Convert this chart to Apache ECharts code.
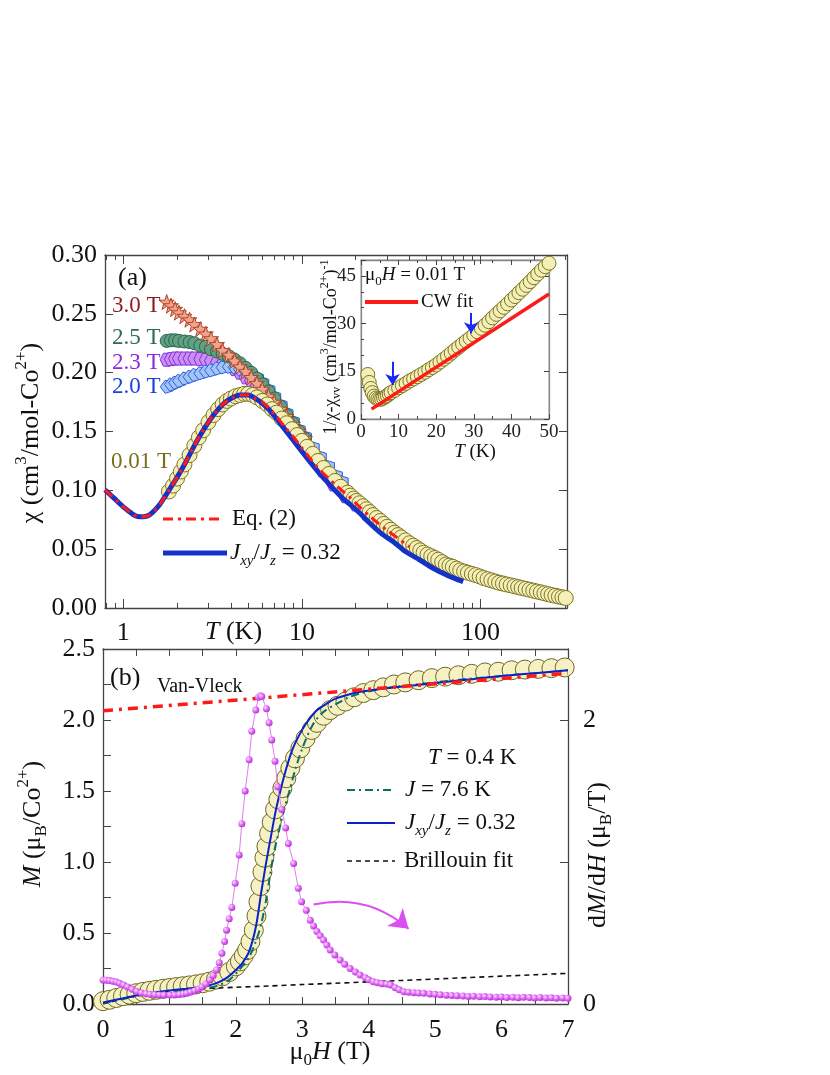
<!DOCTYPE html>
<html>
<head>
<meta charset="utf-8">
<script src="https://cdn.jsdelivr.net/npm/echarts@6/dist/echarts.min.js"></script>
<style>
html, body { margin: 0; padding: 0; background: #fff; }
#chart { width: 830px; height: 1075px; }
</style>
</head>
<body>
<div id="chart"></div>
<script>
// ---- panel (a): chi(T), log T axis ----
var tLow = [1.8,1.9,2.0,2.1,2.2,2.35,2.5,2.65,2.8,3.0,3.2,3.4,3.6,3.8,4.0,4.25,4.5,4.75,5.0,5.3,5.6,6.0,6.4,6.8,7.2,7.7,8.2,8.8,9.4,10,10.7,11.5,12.3,13.2,14.2,15.3,16.5,
    18,18.7,19.5,20.2,21,22,23,24,25,26.2,27.5,28.7,30,31.5,33,34.5,36,38,40,42,44,46,48,50.5,53,55.5,58,61,64,67,70,73.5,77,81,85,89.5,94,99,104,109.5,115,121,127,133.5,140,147.5,155,162.5,170,179,188,197.5,207,217.5,228,239,250,262.5,275,287.5,300];
var chiLow = [0.099,0.104,0.110,0.116,0.122,0.130,0.138,0.145,0.151,0.158,0.164,0.169,0.173,0.176,0.178,0.180,0.181,0.182,0.182,0.181,0.179,0.176,0.173,0.169,0.166,0.161,0.157,0.152,0.147,0.142,0.137,0.131,0.125,0.119,0.114,0.108,0.103,
    0.098,0.0955,0.093,0.091,0.089,0.0865,0.084,0.0815,0.079,0.0765,0.074,0.0715,0.069,0.0665,0.064,0.062,0.060,0.0575,0.055,0.053,0.051,0.049,0.047,0.0455,0.044,0.0425,0.041,0.039,0.037,0.036,0.035,0.0335,0.032,0.031,0.030,0.029,0.028,0.0268,0.0255,0.0245,0.0235,0.0225,0.0215,0.0208,0.020,0.0193,0.0185,0.0178,0.017,0.0163,0.0155,0.0148,0.014,0.0133,0.0125,0.0118,0.011,0.0104,0.0097,0.0091,0.0085];

var tField = [1.75,1.85,1.95,2.05,2.2,2.35,2.5,2.7,2.9,3.1,3.35,3.6,3.9,4.2,4.5,4.85,5.2,5.6,6.0,6.5,7.0,7.6,8.2,8.9,9.6,10.4];
var chi30 = [0.260,0.257,0.254,0.251,0.248,0.245,0.241,0.237,0.233,0.229,0.224,0.219,0.215,0.210,0.205,0.201,0.196,0.191,0.186,0.180,0.175,0.169,0.163,0.156,0.150,0.144];
var chi25 = [0.227,0.2275,0.2275,0.227,0.2265,0.226,0.225,0.223,0.222,0.220,0.218,0.216,0.214,0.211,0.208,0.204,0.200,0.195,0.190,0.184,0.178,0.171,0.164,0.157,0.150,0.144];
var t23 = [1.75,1.85,1.95,2.05,2.2,2.35,2.5,2.7,2.9,3.1,3.35,3.6,3.9,4.2,4.5,4.85,5.2,5.6,6.0,6.5,7.0,7.6,8.2,8.9,9.6,10.4,11.5,13,15,17.5,20,23,27,32,38,45];
var chi23 = [0.211,0.2115,0.212,0.212,0.212,0.212,0.212,0.2115,0.211,0.210,0.209,0.208,0.206,0.203,0.200,0.196,0.193,0.189,0.185,0.179,0.173,0.166,0.159,0.151,0.144,0.137,0.128,0.117,0.105,0.095,0.088,0.080,0.072,0.063,0.055,0.048];
var t20 = [1.75,1.85,1.95,2.05,2.2,2.35,2.5,2.7,2.9,3.1,3.35,3.6,3.9,4.2,4.5,4.85,5.2,5.6,6.0,6.5,7.0,7.6,8.2,8.9,9.6,10.4,11.5,12.6,14,15.5,16.7];
var chi20 = [0.188,0.190,0.1915,0.193,0.195,0.1965,0.198,0.1995,0.201,0.202,0.2035,0.2045,0.205,0.2045,0.203,0.201,0.198,0.195,0.191,0.185,0.179,0.172,0.165,0.158,0.151,0.145,0.136,0.128,0.120,0.112,0.107];

var tEq = [0.79,0.85,0.9,0.95,1.0,1.1,1.2,1.3,1.4,1.5,1.6,1.7,1.8,2.0,2.2,2.5,2.8,3.2,3.6,4.0,4.5,5.0,5.5,6.0,6.6,7.2,8.0,8.9,10,11,12.3,13.7,15.3,17,18.6,21,24,27,30,34,40];
var chiEq = [0.1003,0.096,0.0925,0.089,0.086,0.081,0.0778,0.0776,0.079,0.083,0.088,0.094,0.100,0.111,0.122,0.138,0.151,0.164,0.173,0.178,0.181,0.181,0.178,0.175,0.169,0.163,0.154,0.146,0.136,0.128,0.119,0.112,0.105,0.099,0.094,0.086,0.078,0.0715,0.066,0.060,0.052];
var tJ = [0.79,0.85,0.9,0.95,1.0,1.1,1.2,1.3,1.4,1.5,1.6,1.7,1.8,2.0,2.2,2.5,2.8,3.2,3.6,4.0,4.5,5.0,5.5,6.0,6.6,7.2,8.0,8.9,10,11,12.3,13.7,15.3,17,18.6,21,24,28,32.5,38,45.8,54,64.6,72,80];
var chiJ = [0.1003,0.096,0.0925,0.089,0.086,0.081,0.0778,0.0776,0.079,0.083,0.088,0.094,0.100,0.111,0.122,0.138,0.151,0.164,0.173,0.178,0.181,0.181,0.178,0.174,0.168,0.161,0.152,0.143,0.133,0.125,0.116,0.108,0.100,0.093,0.088,0.081,0.072,0.063,0.0564,0.048,0.0408,0.034,0.028,0.025,0.0224];

var logMajorT = [1, 10, 100];
var logMinorT = [0.8,0.9,2,3,4,5,6,7,8,9,20,30,40,50,60,70,80,90,200,300];

// ---- inset: 1/(chi-chi_vv) vs T ----
var tIn = [1.8,2.2,2.6,3.0,3.5,4.0,4.5,5.0,5.5,6.0,6.5,7.0,7.5,8,9,10,11,12,13,14,15,16,17,18,19,20,21,22,23,24,25,26,27,28,29,30,31,32,33,34,35,36,37,38,39,40,41,42,43,44,45,46,47,48,49,50];
var invChi = [14.0,11.5,9.6,8.3,7.2,6.6,6.3,6.2,6.3,6.6,7.0,7.4,7.9,8.3,9.0,9.8,10.5,11.2,12.0,12.6,13.3,14.0,14.7,15.5,16.2,17.0,17.9,18.8,19.7,20.7,21.7,22.6,23.6,24.5,25.4,26.4,27.4,28.5,29.5,30.6,31.8,32.9,34.0,35.1,36.2,37.4,38.5,39.7,40.8,42.0,43.2,44.4,45.6,46.8,47.9,49.0];
var tCW = [2.8, 50];
var cwVal = [3.1, 39.3];
var arrowT = [8.4, 29.3];
var arrowFrom = [18.0, 33.3];
var arrowTo = [10.7, 27.0];

// ---- panel (b): M(H) at 0.4 K ----
var hM = [0,0.1,0.2,0.3,0.4,0.5,0.6,0.7,0.8,0.9,1.0,1.1,1.2,1.3,1.4,1.5,1.6,1.7,1.8,1.9,2.0,2.06,2.12,2.17,2.22,2.27,2.31,2.34,2.37,2.40,2.43,2.46,2.50,2.54,2.59,2.64,2.70,2.76,2.82,2.89,2.97,3.05,3.14,3.22,3.32,3.42,3.53,3.65,3.78,3.92,4.07,4.22,4.38,4.55,4.75,4.95,5.15,5.35,5.55,5.75,5.95,6.15,6.35,6.55,6.75,6.95];
var mData = [0.02,0.03,0.042,0.055,0.066,0.076,0.085,0.093,0.100,0.107,0.113,0.119,0.125,0.131,0.138,0.146,0.157,0.172,0.195,0.225,0.265,0.30,0.34,0.38,0.44,0.52,0.62,0.72,0.83,0.93,1.03,1.11,1.20,1.28,1.37,1.44,1.52,1.59,1.66,1.73,1.80,1.87,1.93,1.98,2.03,2.07,2.10,2.13,2.16,2.19,2.21,2.23,2.25,2.265,2.28,2.295,2.305,2.315,2.325,2.335,2.34,2.35,2.355,2.36,2.365,2.37];
var hB = [0,0.25,0.5,0.75,1.0,1.25,1.5,1.75,2,2.5,3,3.5,4,4.5,5,5.5,6,6.5,7];
var mBril = [0,0.032,0.058,0.077,0.089,0.098,0.108,0.113,0.118,0.127,0.137,0.146,0.156,0.166,0.176,0.186,0.196,0.206,0.216];
var hJ76 = [0,0.25,0.5,0.75,1.0,1.25,1.5,1.7,1.9,2.05,2.2,2.3,2.38,2.45,2.52,2.58,2.65,2.72,2.8,2.9,3.0,3.15,3.3,3.5,3.7,3.9,4.2,4.6,5.0,5.5,6.0,6.5,7.0];
var mJ76 = [0.005,0.03,0.055,0.075,0.09,0.10,0.11,0.125,0.17,0.24,0.33,0.44,0.56,0.72,0.92,1.08,1.22,1.36,1.49,1.66,1.80,1.96,2.05,2.11,2.16,2.19,2.22,2.245,2.265,2.29,2.31,2.33,2.35];
var hJxy = [0,0.25,0.5,0.75,1.0,1.25,1.5,1.7,1.85,2.0,2.1,2.2,2.3,2.38,2.45,2.52,2.6,2.68,2.76,2.85,2.95,3.05,3.2,3.35,3.5,3.7,3.9,4.2,4.6,5.0,5.5,6.0,6.5,7.0];
var mJxy = [0.01,0.035,0.06,0.08,0.095,0.108,0.122,0.145,0.18,0.24,0.29,0.37,0.54,0.78,0.98,1.16,1.36,1.52,1.66,1.79,1.89,1.97,2.06,2.11,2.15,2.18,2.20,2.22,2.24,2.26,2.285,2.31,2.33,2.35];
var hVV = [0, 7];
var mVV = [2.065, 2.33];
var hD = [0,0.05,0.1,0.15,0.2,0.25,0.31,0.37,0.44,0.51,0.58,0.65,0.71,0.78,0.85,0.92,1.01,1.08,1.15,1.21,1.26,1.32,1.38,1.44,1.49,1.55,1.61,1.66,1.71,1.75,1.79,1.83,1.86,1.9,1.94,1.99,2.05,2.09,2.14,2.2,2.24,2.3,2.34,2.37,2.39,2.46,2.5,2.54,2.59,2.63,2.69,2.75,2.79,2.87,2.94,2.99,3.06,3.12,3.17,3.22,3.27,3.32,3.37,3.42,3.49,3.57,3.64,3.72,3.8,3.87,3.95,4.0,4.07,4.13,4.2,4.27,4.33,4.4,4.46,4.53,4.6,4.68,4.75,4.83,4.92,5.0,5.08,5.17,5.25,5.33,5.42,5.5,5.58,5.67,5.75,5.83,5.92,6.0,6.08,6.17,6.25,6.33,6.42,6.5,6.58,6.67,6.75,6.83,6.92,7.0];
var dMdH = [0.169,0.168,0.165,0.16,0.155,0.146,0.134,0.12,0.103,0.088,0.078,0.072,0.068,0.066,0.064,0.063,0.063,0.064,0.067,0.071,0.076,0.084,0.094,0.106,0.12,0.14,0.169,0.2,0.24,0.29,0.357,0.44,0.52,0.6,0.68,0.85,1.05,1.27,1.5,1.72,1.92,2.07,2.16,2.17,2.165,2.08,1.98,1.86,1.71,1.53,1.37,1.24,1.13,0.99,0.815,0.72,0.66,0.59,0.55,0.51,0.48,0.45,0.415,0.38,0.345,0.31,0.28,0.25,0.225,0.204,0.185,0.17,0.157,0.15,0.143,0.14,0.134,0.115,0.1,0.087,0.083,0.08,0.077,0.075,0.07,0.068,0.065,0.062,0.06,0.058,0.057,0.053,0.055,0.051,0.052,0.05,0.048,0.05,0.046,0.048,0.044,0.047,0.045,0.043,0.046,0.042,0.044,0.041,0.043,0.04];
var arrowH = [3.17, 4.6];
var arrowD = [0.70, 0.53];

var F = 'Liberation Serif';
var AX = '#444';

function lg(t) { return Math.log10(t); }
function pairs(xs, ys, fx) {
    return xs.map(function (x, i) { return [fx ? fx(x) : x, ys[i]]; });
}

// rich styles for sub/superscripts
function rich(s) {
    var lh = Math.round(s * 1.35), sm = Math.round(s * 0.66), slh = Math.round(s * 0.75);
    return {
        n: {fontFamily: F, fontSize: s, lineHeight: lh},
        i: {fontFamily: F, fontSize: s, fontStyle: 'italic', lineHeight: lh},
        sup: {fontFamily: F, fontSize: sm, verticalAlign: 'top', lineHeight: slh},
        sub: {fontFamily: F, fontSize: sm, verticalAlign: 'bottom', lineHeight: slh},
        isub: {fontFamily: F, fontSize: sm, fontStyle: 'italic', verticalAlign: 'bottom', lineHeight: slh}
    };
}
function gText(x, y, s, text, fill, align, rot) {
    return {
        type: 'text', x: x, y: y, z: 100, silent: true, rotation: rot || 0,
        style: {
            text: text, rich: rich(s), fontFamily: F, fontSize: s, fill: fill || '#111',
            align: align || 'left', verticalAlign: 'middle'
        }
    };
}
function gLine(x1, x2, y, color, w, dash) {
    return {
        type: 'line', z: 100, silent: true,
        shape: {x1: x1, y1: y, x2: x2, y2: y},
        style: {stroke: color, lineWidth: w, lineDash: dash || null}
    };
}
function tick(len, custom) {
    var t = {show: true, inside: true, length: len, lineStyle: {color: AX, width: 1}};
    if (custom) t.customValues = custom;
    return t;
}
function axLine(show, color) {
    return {show: show, onZero: false, lineStyle: {color: color || AX, width: 1.3}};
}
var noLabel = {show: false};
var noSplit = {show: false};

var xMinA = lg(0.79), xMaxA = lg(305);
var STAR = 'path://M0,-10L2.35,-3.24L9.51,-3.09L3.8,1.24L5.88,8.09L0,4L-5.88,8.09L-3.8,1.24L-9.51,-3.09L-2.35,-3.24Z';
var HEX = 'path://M-10,0L-5,-8.66L5,-8.66L10,0L5,8.66L-5,8.66Z';
var PENT = 'path://M-10,0L-3.1,-9.5L8.1,-5.9L8.1,5.9L-3.1,9.5Z';

var pinkBall = {
    type: 'radial', x: 0.35, y: 0.35, r: 0.75,
    colorStops: [{offset: 0, color: '#FBE0FF'}, {offset: 0.45, color: '#E070F5'}, {offset: 1, color: '#B020D0'}]
};

var option = {
    animation: false,
    backgroundColor: '#fff',
    grid: [
        {left: 105, top: 255, width: 462, height: 353},
        {left: 103, top: 649, width: 465, height: 355},
        {left: 361, top: 260, width: 188, height: 159, show: true, backgroundColor: '#fff', borderColor: '#999', borderWidth: 1}
    ],
    xAxis: [
        {type: 'value', gridIndex: 0, position: 'bottom', min: xMinA, max: xMaxA, axisLine: axLine(true),
            axisTick: tick(9, logMajorT.map(lg)), splitLine: noSplit,
            axisLabel: {customValues: logMajorT.map(lg), fontFamily: F, fontSize: 26, color: '#111', margin: 12,
                formatter: function (v) { return String(Math.round(Math.pow(10, v))); }}},
        {type: 'value', gridIndex: 0, position: 'bottom', min: xMinA, max: xMaxA, axisLine: axLine(false),
            axisTick: tick(5, logMinorT.map(lg)), axisLabel: noLabel, splitLine: noSplit},
        {type: 'value', gridIndex: 0, position: 'top', min: xMinA, max: xMaxA, axisLine: axLine(true),
            axisTick: tick(9, logMajorT.map(lg)), axisLabel: noLabel, splitLine: noSplit},
        {type: 'value', gridIndex: 0, position: 'top', min: xMinA, max: xMaxA, axisLine: axLine(false),
            axisTick: tick(5, logMinorT.map(lg)), axisLabel: noLabel, splitLine: noSplit},
        {type: 'value', gridIndex: 1, position: 'bottom', min: 0, max: 7, interval: 1, axisLine: axLine(true),
            axisTick: tick(7), minorTick: {show: true, splitNumber: 2, length: 7, lineStyle: {color: AX}},
            axisLabel: {fontFamily: F, fontSize: 26, color: '#111', margin: 13}, splitLine: noSplit, minorSplitLine: noSplit},
        {type: 'value', gridIndex: 1, position: 'top', min: 0, max: 7, interval: 1, axisLine: axLine(true),
            axisTick: tick(7), minorTick: {show: true, splitNumber: 2, length: 7, lineStyle: {color: AX}},
            axisLabel: noLabel, splitLine: noSplit},
        {type: 'value', gridIndex: 2, position: 'bottom', min: 0, max: 50, interval: 10, axisLine: axLine(true, '#888'),
            axisTick: tick(5), minorTick: {show: true, splitNumber: 2, length: 3, lineStyle: {color: AX}},
            axisLabel: {fontFamily: F, fontSize: 19, color: '#222', margin: 4}, splitLine: noSplit},
        {type: 'value', gridIndex: 2, position: 'top', min: 0, max: 50, interval: 10, axisLine: axLine(true, '#888'),
            axisTick: tick(5), minorTick: {show: true, splitNumber: 2, length: 3, lineStyle: {color: AX}},
            axisLabel: noLabel, splitLine: noSplit}
    ],
    yAxis: [
        {type: 'value', gridIndex: 0, position: 'left', min: 0, max: 0.3, interval: 0.05, axisLine: axLine(true),
            axisTick: tick(8), splitLine: noSplit,
            axisLabel: {fontFamily: F, fontSize: 26, color: '#111', margin: 8, formatter: function (v) { return v.toFixed(2); }}},
        {type: 'value', gridIndex: 0, position: 'right', min: 0, max: 0.3, interval: 0.05, axisLine: axLine(true),
            axisTick: tick(8), axisLabel: noLabel, splitLine: noSplit},
        {type: 'value', gridIndex: 1, position: 'left', min: 0, max: 2.5, interval: 0.5, axisLine: axLine(true),
            axisTick: tick(8), minorTick: {show: true, splitNumber: 2, length: 8, lineStyle: {color: AX}}, splitLine: noSplit,
            axisLabel: {fontFamily: F, fontSize: 26, color: '#111', margin: 8, formatter: function (v) { return v.toFixed(1); }}},
        {type: 'value', gridIndex: 1, position: 'right', min: 0, max: 2.5, axisLine: axLine(true),
            axisTick: tick(8, [0, 1, 2]), splitLine: noSplit,
            axisLabel: {customValues: [0, 2], fontFamily: F, fontSize: 26, color: '#111', margin: 15}},
        {type: 'value', gridIndex: 2, position: 'left', min: 0, max: 50, interval: 15, axisLine: axLine(true, '#888'),
            axisTick: tick(5), minorTick: {show: true, splitNumber: 3, length: 3, lineStyle: {color: AX}}, splitLine: noSplit,
            axisLabel: {customValues: [0, 15, 30, 45], fontFamily: F, fontSize: 19, color: '#222', margin: 5}},
        {type: 'value', gridIndex: 2, position: 'right', min: 0, max: 50, interval: 15, axisLine: axLine(true, '#888'),
            axisTick: tick(5), axisLabel: noLabel, splitLine: noSplit}
    ],
    series: [
        // panel (a)
        {type: 'scatter', name: '2.3 T', xAxisIndex: 0, yAxisIndex: 0, data: pairs(t23, chi23, lg),
            symbol: HEX, symbolSize: 13, itemStyle: {color: '#C890F2', borderColor: '#8A2BE2', borderWidth: 1, opacity: 1}},
        {type: 'scatter', name: '2.0 T', xAxisIndex: 0, yAxisIndex: 0, data: pairs(t20, chi20, lg),
            symbol: PENT, symbolSize: 13, itemStyle: {color: '#A2C4F6', borderColor: '#2F5FE0', borderWidth: 1, opacity: 1}},
        {type: 'scatter', name: '2.5 T', xAxisIndex: 0, yAxisIndex: 0, data: pairs(tField, chi25, lg),
            symbol: 'circle', symbolSize: 13, itemStyle: {color: '#62A084', borderColor: '#2A6548', borderWidth: 1, opacity: 1}},
        {type: 'scatter', name: '3.0 T', xAxisIndex: 0, yAxisIndex: 0, data: pairs(tField, chi30, lg),
            symbol: STAR, symbolSize: 15, itemStyle: {color: '#F0A48C', borderColor: '#B2442A', borderWidth: 1, opacity: 1}},
        {type: 'scatter', name: '0.01 T', xAxisIndex: 0, yAxisIndex: 0, data: pairs(tLow, chiLow, lg),
            symbol: 'circle', symbolSize: 15, itemStyle: {color: '#F4EFB6', borderColor: '#7D7322', borderWidth: 1, opacity: 1}},
        {type: 'line', name: 'Jxy/Jz', xAxisIndex: 0, yAxisIndex: 0, data: pairs(tJ, chiJ, lg), showSymbol: false,
            smooth: 0.3, lineStyle: {color: '#1432C8', width: 5}},
        {type: 'line', name: 'Eq. (2)', xAxisIndex: 0, yAxisIndex: 0, data: pairs(tEq, chiEq, lg), showSymbol: false,
            smooth: 0.3, lineStyle: {color: '#FF1A1A', width: 3, type: [10, 5, 3, 5]}},
        // inset
        {type: 'scatter', name: 'inset', xAxisIndex: 6, yAxisIndex: 4, data: pairs(tIn, invChi),
            symbol: 'circle', symbolSize: 14, itemStyle: {color: '#F4EFB6', borderColor: '#7D7322', borderWidth: 1, opacity: 1}},
        {type: 'line', name: 'CW fit', xAxisIndex: 6, yAxisIndex: 4, data: pairs(tCW, cwVal), showSymbol: false,
            lineStyle: {color: '#FF1A1A', width: 3.5},
            markLine: {silent: true, symbol: ['none', 'arrow'], symbolSize: 11, label: {show: false},
                lineStyle: {color: '#1A2AF5', width: 2, type: 'solid'},
                data: arrowT.map(function (t, i) {
                    return [{coord: [t, arrowFrom[i]]}, {coord: [t, arrowTo[i]]}];
                })}},
        // panel (b)
        {type: 'scatter', name: 'M', xAxisIndex: 4, yAxisIndex: 2, data: pairs(hM, mData),
            symbol: 'circle', symbolSize: 19, itemStyle: {color: '#F6F1C2', borderColor: '#6E6624', borderWidth: 1, opacity: 1}},
        {type: 'line', name: 'Brillouin fit', xAxisIndex: 4, yAxisIndex: 2, data: pairs(hB, mBril), showSymbol: false,
            smooth: 0.3, lineStyle: {color: '#111', width: 1.6, type: [5, 4]}},
        {type: 'line', name: 'J = 7.6 K', xAxisIndex: 4, yAxisIndex: 2, data: pairs(hJ76, mJ76), showSymbol: false,
            smooth: 0.3, lineStyle: {color: '#0B6E64', width: 2, type: [8, 4, 2, 4]}},
        {type: 'line', name: 'Jxy/Jz b', xAxisIndex: 4, yAxisIndex: 2, data: pairs(hJxy, mJxy), showSymbol: false,
            smooth: 0.3, lineStyle: {color: '#0A22C8', width: 2}},
        {type: 'line', name: 'Van-Vleck', xAxisIndex: 4, yAxisIndex: 2, data: pairs(hVV, mVV), showSymbol: false,
            lineStyle: {color: '#FF1A1A', width: 3.5, type: [10, 6, 3, 6]}},
        {type: 'line', name: 'dM/dH', xAxisIndex: 4, yAxisIndex: 3, data: pairs(hD, dMdH),
            symbol: 'circle', symbolSize: 7, showSymbol: true, showAllSymbol: true,
            lineStyle: {color: '#E27CF2', width: 1}, itemStyle: {color: pinkBall, borderWidth: 0}},
        // curved arrow pointing to the right-hand axis
        {type: 'lines', name: 'dM/dH arrow', coordinateSystem: 'cartesian2d', xAxisIndex: 4, yAxisIndex: 3,
            silent: true, symbol: ['none', 'arrow'], symbolSize: 18,
            lineStyle: {color: '#DA4FF0', width: 2, opacity: 1, curveness: 0.25},
            data: [{coords: [[arrowH[0], arrowD[0]], [arrowH[1], arrowD[1]]]}]}
    ],
    graphic: [
        // panel (a) annotations
        gText(118, 278, 26, '{n|(a)}'),
        gText(112, 306, 23, '{n|3.0 T}', '#8E1B1B'),
        gText(112, 338, 23, '{n|2.5 T}', '#2E6D52'),
        gText(112, 363, 23, '{n|2.3 T}', '#8A2BE2'),
        gText(112, 387, 23, '{n|2.0 T}', '#1E40D8'),
        gText(111, 462, 23, '{n|0.01 T}', '#7A6E1E'),
        gLine(163, 220, 519, '#FF1A1A', 3, [10, 5, 3, 5]),
        gText(232, 519, 23, '{n|Eq. (2)}'),
        gLine(163, 227, 553, '#1432C8', 5),
        gText(230, 553, 23, '{i|J}{isub|xy}{n|/}{i|J}{isub|z}{n| = 0.32}'),
        gText(205, 632, 26, '{i|T}{n| (K)}'),
        gText(31, 433, 26, '{n|χ (cm}{sup|3}{n|/mol-Co}{sup|2+}{n|)}', '#111', 'center', Math.PI / 2),
        // inset annotations
        gText(365, 275, 19, '{n|μ}{sub|0}{i|H}{n| = 0.01 T}'),
        gLine(365, 418, 302, '#FF1A1A', 4),
        gText(421, 302, 19, '{n|CW fit}'),
        gText(475, 452, 19, '{i|T}{n| (K)}', '#111', 'center'),
        gText(331, 347, 18, '{n|1/χ-χ}{sub|vv}{n| (cm}{sup|3}{n|/mol-Co}{sup|2+}{n|)}{sup|-1}', '#111', 'center', Math.PI / 2),
        // panel (b) annotations
        gText(110, 678, 26, '{n|(b)}'),
        gText(157, 687, 20, '{n|Van-Vleck}'),
        gText(428, 758, 23, '{i|T}{n| = 0.4 K}'),
        gLine(347, 395, 790, '#0B6E64', 2, [8, 4, 2, 4]),
        gText(405, 790, 23, '{i|J}{n| = 7.6 K}'),
        gLine(347, 395, 823, '#0A22C8', 2),
        gText(405, 823, 23, '{i|J}{isub|xy}{n|/}{i|J}{isub|z}{n| = 0.32}'),
        gLine(347, 395, 861, '#111', 1.6, [5, 4]),
        gText(404, 861, 23, '{n|Brillouin fit}'),
        gText(330, 1052, 26, '{n|μ}{sub|0}{i|H}{n| (T)}', '#111', 'center'),
        gText(33, 824, 26, '{i|M}{n| (μ}{sub|B}{n|/Co}{sup|2+}{n|)}', '#111', 'center', Math.PI / 2),
        gText(598, 855, 26, '{n|d}{i|M}{n|/d}{i|H}{n| (μ}{sub|B}{n|/T)}', '#111', 'center', Math.PI / 2)
    ]
};

var myChart = echarts.init(document.getElementById('chart'), null, {renderer: 'canvas'});
myChart.setOption(option);
</script>
</body>
</html>
